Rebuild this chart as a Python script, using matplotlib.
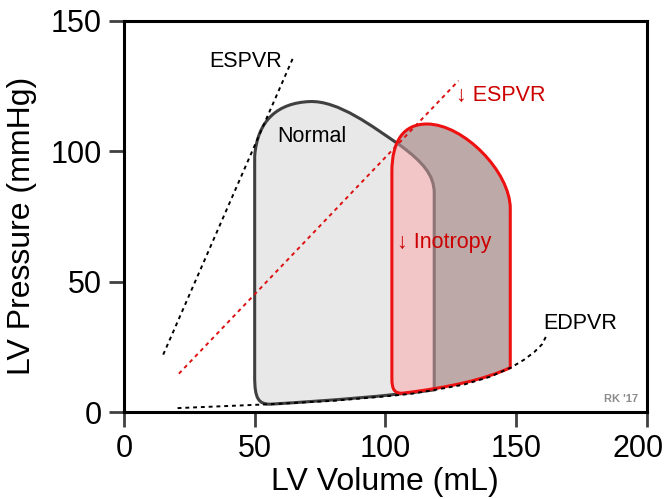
import numpy as np
import matplotlib.pyplot as plt
import matplotlib.transforms as mtransforms
from matplotlib.path import Path
from matplotlib.patches import PathPatch

plt.rcParams['font.family'] = ['Liberation Sans', 'DejaVu Sans']

# loop outlines (volume mL, pressure mmHg) as cubic bezier control points
normal_vol = [56, 80, 100, 118.7, 118.7, 118.7, 114, 106, 95, 82, 71, 59, 51, 50, 50, 50, 51.5, 56]
normal_prs = [3, 4.5, 6, 8.5, 84, 91, 96, 102, 109.5, 119.5, 119, 118.5, 112, 98, 13.5, 5, 3, 3]
normal_codes = ['M', 'C', 'C', 'C', 'L', 'C', 'C', 'C', 'C', 'C', 'C', 'C', 'C', 'C', 'L', 'C', 'C', 'C']

inotropy_vol = [106.5, 125, 138, 147.8, 147.8, 147.8, 130, 115.9, 107, 102.5, 102.5, 102.5, 102.5, 103.5, 106.5]
inotropy_prs = [7.2, 9.5, 12.5, 17, 78, 92, 110.4, 110.4, 110.4, 104, 92, 13, 8.5, 7.2, 7.2]
inotropy_codes = ['M', 'C', 'C', 'C', 'L', 'C', 'C', 'C', 'C', 'C', 'C', 'L', 'C', 'C', 'C']

# pressure-volume relations
espvr_vol = [15, 65]
espvr_prs = [22, 136.5]
espvr_low_vol = [21, 128]
espvr_low_prs = [14.7, 127]
edpvr_vol = [20.5, 56, 80, 100, 110, 119, 130, 140, 148, 153, 157, 160, 162]
edpvr_prs = [1.5, 3, 4.3, 6, 7, 8.5, 10.5, 13.5, 17, 20, 23, 26, 30]

code_map = {'M': Path.MOVETO, 'L': Path.LINETO, 'C': Path.CURVE4}


def make_path(vol, prs, codes):
    return Path(np.column_stack([vol, prs]), [code_map[c] for c in codes])


fig = plt.figure(figsize=(6.66, 4.99), dpi=100)
ax = fig.add_axes([0.1862, 0.1743, 0.7848, 0.7842])

normal_path = make_path(normal_vol, normal_prs, normal_codes)
ino_path = make_path(inotropy_vol, inotropy_prs, inotropy_codes)

normal_fill = PathPatch(normal_path, fc='#e8e8e8', ec='none', zorder=1)
ax.add_patch(normal_fill)
ax.add_patch(PathPatch(normal_path, fc='none', ec='#404040', lw=2.2, zorder=2))

ino_fill = PathPatch(ino_path, fc='#bea9a9', ec='none', zorder=3)
ax.add_patch(ino_fill)
overlap = PathPatch(ino_path, fc='#f2c6c7', ec='none', zorder=4)
ax.add_patch(overlap)
overlap.set_clip_path(normal_fill)
inner_edge = PathPatch(normal_path, fc='none', ec='#8e7474', lw=2.2, zorder=5)
ax.add_patch(inner_edge)
inner_edge.set_clip_path(ino_fill)
ax.add_patch(PathPatch(ino_path, fc='none', ec='#ee1111', lw=2.2, zorder=6))

dots = (0, (2, 2))
ax.plot(espvr_vol, espvr_prs, color='black', lw=1.4, ls=dots, zorder=7)
ax.plot(espvr_low_vol, espvr_low_prs, color='#dd1111', lw=1.4, ls=dots, zorder=7)
ax.plot(edpvr_vol, edpvr_prs, color='black', lw=1.4, ls=dots, zorder=7)

fs = 15.5
ax.text(46.5, 134.5, 'ESPVR', fontsize=fs, ha='center', va='center')
ax.text(72, 105.5, 'Normal', fontsize=fs, ha='center', va='center', zorder=8)
ax.text(127, 121.5, '\u2193 ESPVR', fontsize=fs, color='#cc0000', ha='left', va='center')
ax.text(104.5, 65, '\u2193 Inotropy', fontsize=fs, color='#cc0000', ha='left', va='center', zorder=8)
ax.text(160.5, 34, 'EDPVR', fontsize=fs, ha='left', va='center')
ax.text(183.5, 5, "RK '17", fontsize=8, color='#8c8c8c', fontweight='bold', ha='left', va='center')

ax.set_xlim(0, 200)
ax.set_ylim(0, 150)
ax.set_xticks([0, 50, 100, 150, 200])
ax.set_yticks([0, 50, 100, 150])
ax.tick_params(labelsize=22, length=11, width=2, color='#404040', direction='out', pad=5)
for s in ax.spines.values():
    s.set_linewidth(2.2)
ax.set_xlabel('LV Volume (mL)', fontsize=23, labelpad=2)
ax.set_ylabel('LV Pressure (mmHg)', fontsize=23)
ax.yaxis.set_label_coords(-0.166, 0.475)

# keep the last x tick label inside the figure
last = ax.get_xticklabels()[-1]
last.set_transform(last.get_transform() + mtransforms.ScaledTranslation(-9 / 100, 0, fig.dpi_scale_trans))

fig.savefig('out.png', dpi=100)
